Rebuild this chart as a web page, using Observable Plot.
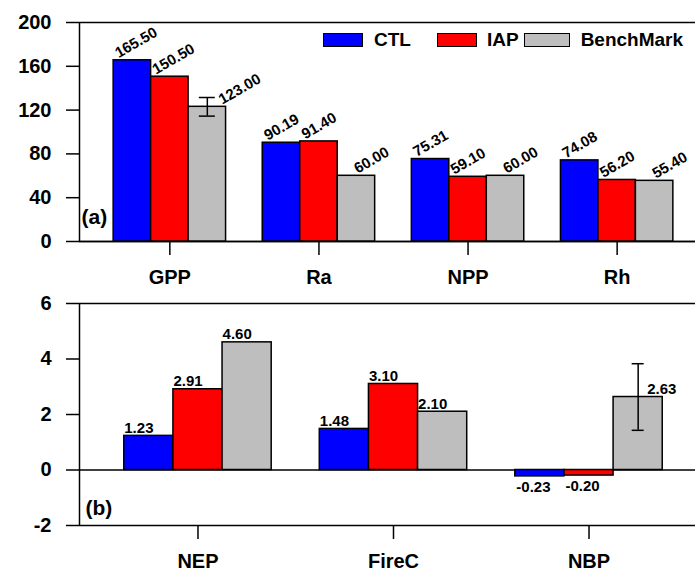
<!DOCTYPE html>
<html><head><meta charset="utf-8">
<script src="https://cdn.jsdelivr.net/npm/d3@7"></script>
<script src="https://cdn.jsdelivr.net/npm/@observablehq/plot@0.6"></script>
<style>
body{margin:0;background:#fff;}
#wrap{position:relative;width:695px;height:574px;overflow:hidden;font-family:"Liberation Sans",Arial,sans-serif;}
#legend{position:absolute;left:323px;top:33px;display:flex;align-items:center;font-weight:bold;font-size:19px;height:14px;line-height:14px;}
.sw{height:14px;box-sizing:border-box;border:1.5px solid #000;}
svg{display:block;}
</style></head><body><div id="wrap"></div>
<script>
const series = ["CTL", "IAP", "BenchMark"];
const seriesColors = ["#0000ff", "#ff0000", "#bebebe"];

const fluxCats = ["GPP", "Ra", "NPP", "Rh"];
const fluxCTL = [165.50, 90.19, 75.31, 74.08];
const fluxIAP = [150.50, 91.40, 59.10, 56.20];
const fluxBench = [123.00, 60.00, 60.00, 55.40];
const fluxBenchErr = [8.5, 0, 0, 0];
const fluxTicks = [0, 40, 80, 120, 160, 200];

const balCats = ["NEP", "FireC", "NBP"];
const balCTL = [1.23, 1.48, -0.23];
const balIAP = [2.91, 3.10, -0.20];
const balBench = [4.60, 2.10, 2.63];
const balBenchErr = [0, 0, 1.2];
const balTicks = [-2, 0, 2, 4, 6];

function panel(cfg) {
  const {cats, vals, errs, yDomain, ticks, height, marginTop, tag, tagDx, tagDy, rotated, capHalf, errDx} = cfg;
  const pad = 0.606, group = 0.754, w = group / 3;
  const rows = [];
  cats.forEach((c, i) => series.forEach((s, j) => {
    const x1 = i - group / 2 + j * w;
    rows.push({cat: c, series: s, j, value: vals[j][i], err: j === 2 ? errs[i] : 0,
      x1, x2: x1 + w, xc: x1 + w / 2, label: vals[j][i].toFixed(2)});
  }));
  const errRows = rows.filter(d => d.err > 0);
  const caps = errRows.flatMap(d => [{xc: d.xc, y: d.value - d.err}, {xc: d.xc, y: d.value + d.err}]);
  const pos = rows.filter(d => d.value >= 0 && !(d.err > 0));
  const neg = rows.filter(d => d.value < 0);
  const tb = {text: "label", fontSize: 15, fontWeight: "bold", textAnchor: "start", fill: "black"};
  const marks = [
    Plot.ruleY([yDomain[0], 0, yDomain[1]], {strokeWidth: 1.5}),
    Plot.ruleX([-pad], {strokeWidth: 1.5}),
    Plot.rect(rows, {x1: "x1", x2: "x2", y1: 0, y2: "value", fill: "series", stroke: "black", strokeWidth: 1.5}),
    Plot.ruleX(errRows, {x: "xc", y1: d => d.value - d.err, y2: d => d.value + d.err, strokeWidth: 1.5}),
    Plot.ruleY(caps, {y: "y", x1: "xc", x2: "xc", insetLeft: -capHalf, insetRight: -capHalf, strokeWidth: 1.5})
  ];
  if (rotated) {
    marks.push(Plot.text(pos.filter(d => d.j < 2), {...tb, x: "x1", y: "value", rotate: -30, lineAnchor: "bottom", dx: 5, dy: -2}));
    marks.push(Plot.text(pos.filter(d => d.j === 2), {...tb, x: "x1", y: "value", rotate: -30, lineAnchor: "bottom", dx: 20, dy: -2}));
    marks.push(Plot.text(errRows, {...tb, x: "xc", y: "value", rotate: -30, lineAnchor: "bottom", dx: errDx, dy: -2}));
  } else {
    marks.push(Plot.text(pos, {...tb, x: "x1", y: "value", lineAnchor: "bottom", dx: 0, dy: -3}));
    marks.push(Plot.text(neg, {...tb, x: "x1", y: "value", lineAnchor: "top", dx: 1, dy: 5}));
    marks.push(Plot.text(errRows, {...tb, x: "xc", y: "value", lineAnchor: "bottom", dx: errDx, dy: -3}));
  }
  marks.push(Plot.text([tag], {frameAnchor: "bottom-left", textAnchor: "start", lineAnchor: "bottom", dx: tagDx, dy: tagDy, fontSize: 21, fontWeight: "bold"}));
  marks.push(Plot.axisY({ticks, tickFormat: d => String(d), tickSize: 13, tickPadding: 15, strokeWidth: 1.5, fontSize: 20, fontWeight: "bold", label: null}));
  marks.push(Plot.axisX({ticks: d3.range(cats.length), tickFormat: i => cats[i], tickSize: 14, tickPadding: 14, strokeWidth: 1.5, fontSize: 20, fontWeight: "bold", label: null}));
  return Plot.plot({
    width: 695, height, marginTop, marginBottom: 49, marginLeft: 79, marginRight: 0,
    style: {fontFamily: "'Liberation Sans', Arial, sans-serif", fontSize: "20px", fontWeight: "bold", background: "white"},
    x: {type: "linear", domain: [-pad, cats.length - 1 + pad], range: [79, 707], label: null},
    y: {domain: yDomain, label: null},
    color: {domain: series, range: seriesColors},
    marks
  });
}

const wrap = document.getElementById("wrap");
wrap.appendChild(panel({
  cats: fluxCats, vals: [fluxCTL, fluxIAP, fluxBench], errs: fluxBenchErr,
  yDomain: [0, 200], ticks: fluxTicks, height: 290, marginTop: 22,
  tag: "(a)", tagDx: 2, tagDy: -18, rotated: true, capHalf: 8, errDx: 15
}));
wrap.appendChild(panel({
  cats: balCats, vals: [balCTL, balIAP, balBench], errs: balBenchErr,
  yDomain: [-2, 6], ticks: balTicks, height: 284, marginTop: 13,
  tag: "(b)", tagDx: 6, tagDy: -11, rotated: false, capHalf: 6, errDx: 9
}));

const legend = document.createElement("div");
legend.id = "legend";
const swW = [40, 40, 46];
const gapAfterText = [26, 5, 0];
series.forEach((s, i) => {
  const sw = document.createElement("div");
  sw.className = "sw";
  sw.style.width = swW[i] + "px";
  sw.style.background = seriesColors[i];
  const t = document.createElement("span");
  t.textContent = s;
  t.style.marginLeft = (i === 1 ? 10 : 11) + "px";
  t.style.marginRight = gapAfterText[i] + "px";
  legend.appendChild(sw);
  legend.appendChild(t);
});
wrap.appendChild(legend);
</script></body></html>
